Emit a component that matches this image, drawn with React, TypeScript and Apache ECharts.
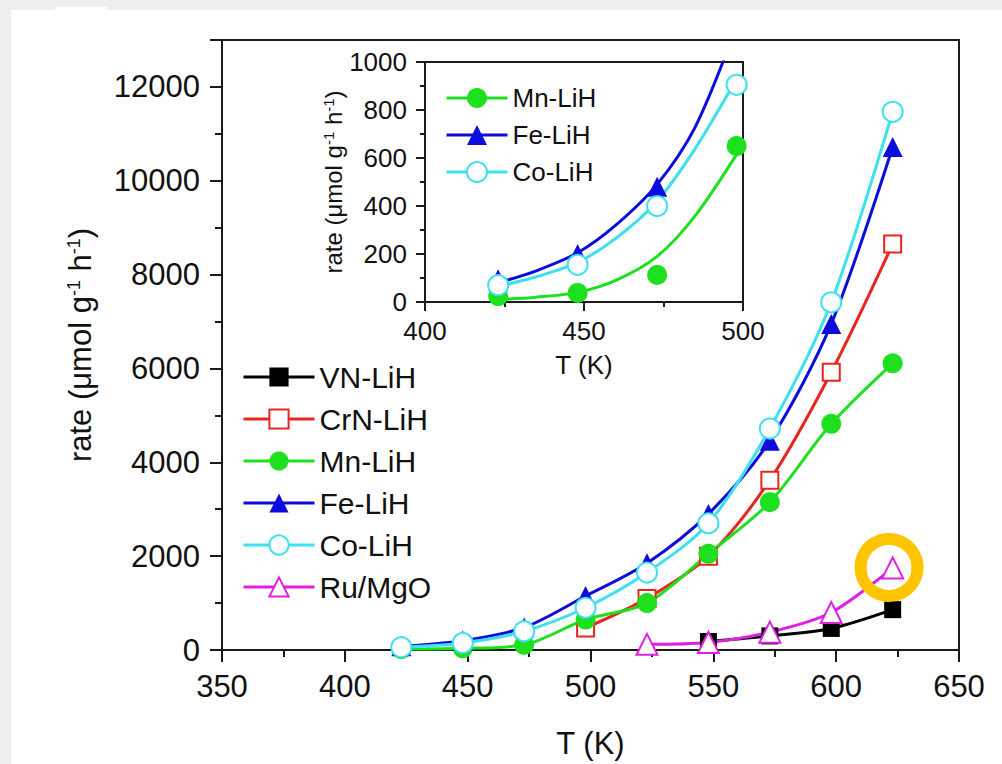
import React, { useEffect, useRef } from 'react';
import * as echarts from 'echarts';

// ---- main plot data (T in K, rate in µmol g-1 h-1) ----
const temps = [423, 448, 473, 498, 523, 548, 573, 598, 623];
const vnTemps = [548, 573, 598, 623];
const vnRate = [180, 300, 460, 860];
const crnTemps = [498, 523, 548, 573, 598, 623];
const crnRate = [470, 1100, 2000, 3620, 5920, 8650];
const mnRate = [20, 35, 110, 650, 1000, 2050, 3150, 4820, 6110];
const feRate = [80, 200, 480, 1150, 1850, 2900, 4460, 6950, 10720];
const coRate = [60, 150, 400, 900, 1650, 2700, 4720, 7410, 11470];
const ruTemps = [523, 548, 573, 598, 623];
const ruRate = [120, 160, 380, 800, 1750];

// ---- inset data ----
const insetTemps = [423, 448, 473, 498];
const insetMn = [25, 38, 113, 650];
const insetFeTemps = [423, 448, 473];
const insetFe = [95, 200, 480];
const insetCo = [70, 155, 400, 905];
// fitted curves, values
const fitTemps = [423, 435, 448, 460, 473, 485, 498];
const fitMn = [10, 20, 40, 90, 190, 360, 615];
const fitFe = [80, 130, 205, 320, 490, 730, 1150];
const fitCo = [65, 105, 165, 265, 420, 640, 930];

// highlighted point (yellow ring)
const highlightPoint = [621.5, 1760];

// ---- tick settings ----
const mainXTicks = { min: 350, max: 650, interval: 50 };
const mainYTicks = { min: 0, max: 13000, interval: 2000, minorInterval: 1000 };
const insetXTicks = { min: 400, max: 500, interval: 50 };
const insetYTicks = { min: 0, max: 1000, interval: 200 };

const colors = {
  vn: '#000000',
  crn: '#e8261f',
  mn: '#1fe01f',
  fe: '#0c0cdc',
  co: '#3ce0ee',
  ru: '#e020e0',
};

const zip = (xs: number[], ys: number[]) => xs.map((x, i) => [x, ys[i]]);

const FONT = '"Liberation Sans", Arial, Helvetica, sans-serif';
const AXIS_COLOR = '#1a1a1a';

function mainLine(name: string, xs: number[], ys: number[], color: string, symbol: string, size: number) {
  return {
    name,
    type: 'line',
    xAxisIndex: 0,
    yAxisIndex: 0,
    data: zip(xs, ys),
    smooth: 0.3,
    symbol,
    symbolSize: size,
    lineStyle: { color, width: 3 },
    itemStyle: { color, borderWidth: 2 },
    z: 3,
  };
}

function fitLine(name: string, ys: number[], color: string) {
  return {
    name, type: 'line', xAxisIndex: 1, yAxisIndex: 2,
    data: zip(fitTemps, ys), smooth: 0.3, symbol: 'none',
    lineStyle: { color, width: 3 }, z: 7,
  };
}

export default function App() {
  const ref = useRef<HTMLDivElement>(null);

  useEffect(() => {
    if (!ref.current) return;
    const chart = echarts.init(ref.current, null, { renderer: 'svg' });

    const axisLine = { show: true, lineStyle: { color: AXIS_COLOR, width: 2 } };

    const option: any = {
      animation: false,
      textStyle: { fontFamily: FONT, color: '#111' },
      grid: [
        {
          left: 222, top: 40, right: 43, bottom: 114,
          show: true, borderColor: AXIS_COLOR, borderWidth: 2,
          backgroundColor: 'transparent',
        },
        {
          left: 425, top: 62, width: 318, height: 240,
          show: true, borderColor: AXIS_COLOR, borderWidth: 2,
          backgroundColor: '#ffffff', z: 5,
        },
      ],
      xAxis: [
        {
          gridIndex: 0, type: 'value',
          min: mainXTicks.min, max: mainXTicks.max, interval: mainXTicks.interval,
          axisLine,
          axisTick: { show: true, inside: false, length: 12, lineStyle: { color: AXIS_COLOR, width: 2 } },
          minorTick: { show: true, splitNumber: 2, length: 7, lineStyle: { color: AXIS_COLOR, width: 2 } },
          splitLine: { show: false },
          axisLabel: { fontSize: 31, color: '#111', margin: 21, fontFamily: FONT },
          name: 'T (K)', nameLocation: 'middle', nameGap: 78,
          nameTextStyle: { fontSize: 31, color: '#111', fontFamily: FONT },
        },
        {
          gridIndex: 1, type: 'value',
          min: insetXTicks.min, max: insetXTicks.max, interval: insetXTicks.interval,
          axisLine,
          axisTick: { show: true, inside: false, length: 9, lineStyle: { color: AXIS_COLOR, width: 2 } },
          minorTick: { show: true, splitNumber: 2, length: 5, lineStyle: { color: AXIS_COLOR, width: 2 } },
          splitLine: { show: false },
          axisLabel: { fontSize: 26, color: '#111', margin: 16, fontFamily: FONT },
          name: 'T (K)', nameLocation: 'middle', nameGap: 50,
          nameTextStyle: { fontSize: 26, color: '#111', fontFamily: FONT },
          z: 6,
        },
      ],
      yAxis: [
        {
          gridIndex: 0, type: 'value',
          min: mainYTicks.min, max: mainYTicks.max, interval: mainYTicks.interval,
          axisLine,
          axisTick: { show: true, inside: false, length: 12, lineStyle: { color: AXIS_COLOR, width: 2 } },
          splitLine: { show: false },
          axisLabel: {
            fontSize: 31, color: '#111', margin: 22, fontFamily: FONT,
            formatter: (v: number) => (v % mainYTicks.interval === 0 ? String(v) : ''),
          },
          name: 'rate (μmol g{sup|-1} h{sup|-1})',
          nameLocation: 'middle', nameGap: 126, nameRotate: 90,
          nameTextStyle: {
            fontSize: 31, color: '#111', fontFamily: FONT,
            rich: { sup: { fontSize: 18, verticalAlign: 'top', color: '#111', fontFamily: FONT } },
          },
        },
        {
          gridIndex: 0, type: 'value', position: 'left',
          min: mainYTicks.min, max: mainYTicks.max, interval: mainYTicks.minorInterval,
          axisLine: { show: false },
          axisTick: { show: true, inside: false, length: 7, lineStyle: { color: AXIS_COLOR, width: 2 } },
          axisLabel: { show: false },
          splitLine: { show: false },
        },
        {
          gridIndex: 1, type: 'value',
          min: insetYTicks.min, max: insetYTicks.max, interval: insetYTicks.interval,
          axisLine,
          axisTick: { show: true, inside: false, length: 9, lineStyle: { color: AXIS_COLOR, width: 2 } },
          minorTick: { show: true, splitNumber: 2, length: 5, lineStyle: { color: AXIS_COLOR, width: 2 } },
          splitLine: { show: false },
          axisLabel: {
            fontSize: 26, color: '#111', margin: 18, fontFamily: FONT,
            formatter: (v: number) => String(v),
          },
          name: 'rate (μmol g{sup|-1} h{sup|-1})',
          nameLocation: 'middle', nameGap: 80, nameRotate: 90,
          nameTextStyle: {
            fontSize: 24, color: '#111', fontFamily: FONT,
            rich: { sup: { fontSize: 15, verticalAlign: 'top', color: '#111', fontFamily: FONT } },
          },
          z: 6,
        },
      ],
      legend: [
        {
          orient: 'vertical', left: 242, top: 362, padding: 0,
          itemWidth: 71, itemHeight: 24, itemGap: 12,
          lineStyle: { width: 3 },
          textStyle: { fontSize: 30, color: '#111', lineHeight: 30, fontFamily: FONT },
          data: ['VN-LiH', 'CrN-LiH', 'Mn-LiH', 'Fe-LiH', 'Co-LiH', 'Ru/MgO'],
          selectedMode: false,
        },
        {
          orient: 'vertical', left: 445, top: 85, padding: 0,
          itemWidth: 61, itemHeight: 25, itemGap: 11,
          lineStyle: { width: 3 },
          textStyle: { fontSize: 26, color: '#111', lineHeight: 26, fontFamily: FONT },
          data: ['Mn-LiH', 'Fe-LiH', 'Co-LiH'],
          selectedMode: false,
          z: 8,
        },
      ],
      series: [
        mainLine('VN-LiH', vnTemps, vnRate, colors.vn, 'rect', 17),
        mainLine('CrN-LiH', crnTemps, crnRate, colors.crn, 'emptyRect', 17),
        mainLine('Mn-LiH', temps, mnRate, colors.mn, 'circle', 20),
        mainLine('Fe-LiH', temps, feRate, colors.fe, 'triangle', 20),
        mainLine('Co-LiH', temps, coRate, colors.co, 'emptyCircle', 20),
        mainLine('Ru/MgO', ruTemps, ruRate, colors.ru, 'emptyTriangle', 21),
        // inset fitted curves
        fitLine('Mn-LiH', fitMn, colors.mn),
        fitLine('Fe-LiH', fitFe, colors.fe),
        fitLine('Co-LiH', fitCo, colors.co),
        // inset points
        {
          name: 'Mn-LiH', type: 'scatter', xAxisIndex: 1, yAxisIndex: 2,
          data: zip(insetTemps, insetMn), symbol: 'circle', symbolSize: 20,
          itemStyle: { color: colors.mn, opacity: 1 }, z: 8,
        },
        {
          name: 'Fe-LiH', type: 'scatter', xAxisIndex: 1, yAxisIndex: 2,
          data: zip(insetFeTemps, insetFe), symbol: 'triangle', symbolSize: 20,
          itemStyle: { color: colors.fe, opacity: 1 }, z: 8,
        },
        {
          name: 'Co-LiH', type: 'scatter', xAxisIndex: 1, yAxisIndex: 2,
          data: zip(insetTemps, insetCo), symbol: 'emptyCircle', symbolSize: 20,
          itemStyle: { color: colors.co, opacity: 1, borderWidth: 2 }, z: 8,
        },
        // yellow highlight ring
        {
          name: 'highlight', type: 'scatter', xAxisIndex: 0, yAxisIndex: 0,
          data: [highlightPoint], symbol: 'circle', symbolSize: 57,
          itemStyle: { color: 'rgba(0,0,0,0)', borderColor: '#ffc400', borderWidth: 12, opacity: 1 },
          z: 10, silent: true,
        },
      ],
    };

    chart.setOption(option);
    return () => chart.dispose();
  }, []);

  return (
    <div style={{ position: 'absolute', left: 0, top: 0, width: 1002, height: 764, background: '#eeeeee', overflow: 'hidden' }}>
      <div style={{ position: 'absolute', left: 11, top: 10, right: 0, bottom: 0, background: '#ffffff' }} />
      <div style={{ position: 'absolute', left: 55, top: 7, width: 52, height: 4, background: '#ffffff' }} />
      <div ref={ref} style={{ position: 'absolute', left: 0, top: 0, width: 1002, height: 764 }} />
    </div>
  );
}
